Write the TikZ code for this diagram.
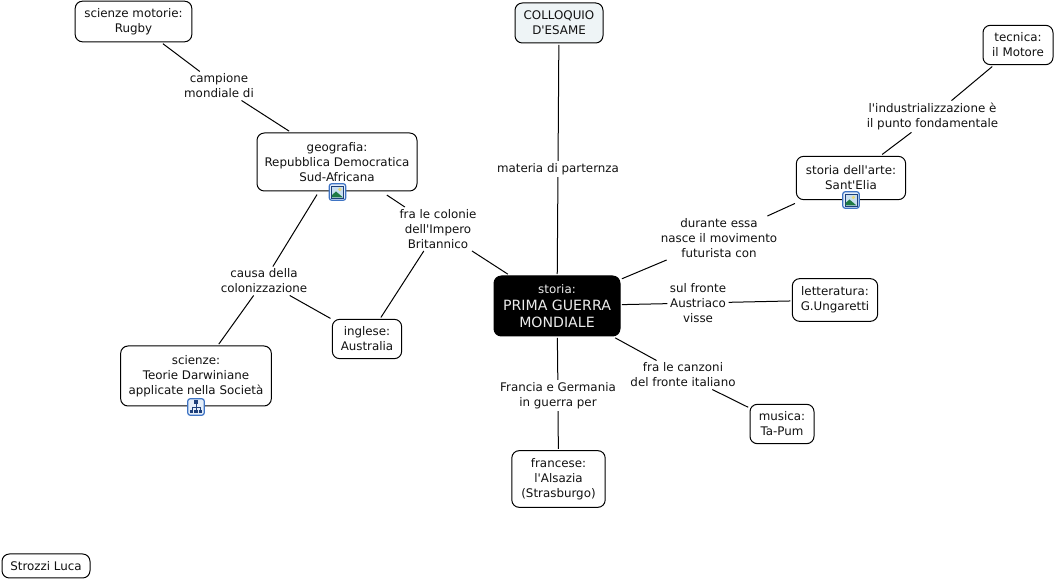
\documentclass[tikz,border=0pt]{standalone}
\usepackage{fontspec}
\setmainfont{DejaVu Sans}
\newcommand{\qq}{\textquotesingle}
\definecolor{inkc}{HTML}{111111}
\definecolor{headfill}{HTML}{EEF4F6}
\definecolor{iconblue}{HTML}{3F74C4}
\definecolor{iconpale}{HTML}{E4EEF9}
\definecolor{hillc}{HTML}{1F7A45}
\definecolor{skyc}{HTML}{C9DFF0}
\definecolor{sunc}{HTML}{E8D878}
\definecolor{darkb}{HTML}{1D3F7A}
\tikzset{
  every node/.style={font=\fontsize{8.9}{11.25}\selectfont, text=inkc, align=center},
  box/.style={draw=black, line width=.75pt, fill=white, rounded corners=5.5pt, inner sep=0pt, outer sep=1.4pt},
  headbox/.style={box, fill=headfill},
  darkbox/.style={box, fill=black, text=white!92!black},
  lab/.style={inner sep=1.8pt, outer sep=0pt},
  link/.style={line width=.75pt, black},
  iconframe/.style={draw=iconblue, fill=iconpale, line width=.9pt, rounded corners=2pt, minimum size=12.5pt, inner sep=0pt, outer sep=0pt},
  pics/imgicon/.style={code={
    \fill[skyc] (-6,-6) rectangle (6,6);
    \draw[darkb, line width=.6pt] (-6,-6) rectangle (6,6);
    \fill[sunc] (2.4,-2.6) circle (1.8);
    \fill[hillc] (-5.5,5.5) -- (-5.5,3) -- (-1.5,-0.5) -- (5.5,5.5) -- cycle;
  }},
  pics/mapicon/.style={code={
    \draw[darkb, line width=.55pt] (0,-3.5) -- (0,0) (-4,0) -- (4,0) (-4,0) -- (-4,3.5) (4,0) -- (4,3.5) (0,0) -- (0,3.5);
    \fill[darkb] (-1.8,-6.5) rectangle (1.8,-3);
    \fill[darkb] (-6,2.6) rectangle (-2.6,6);
    \fill[darkb] (-1.6,2.6) rectangle (1.6,6);
    \fill[darkb] (2.6,2.6) rectangle (6,6);
  }}
}
\begin{document}
\begin{tikzpicture}[x=.75pt,y=-.75pt]
\useasboundingbox (0,0) rectangle (1054,580);
% concept boxes
\node[headbox, minimum width=66pt, minimum height=30pt] (colloquio) at (559,23) {COLLOQUIO\\D\qq ESAME};
\node[darkbox, minimum width=94.5pt, minimum height=45pt] (storia) at (557,306) {storia:\\[1.5pt]\fontsize{10.6}{12.5}\selectfont PRIMA GUERRA\\[1.5pt]\fontsize{10.6}{12.5}\selectfont MONDIALE};
\node[box, minimum width=87.5pt, minimum height=30.5pt] (rugby) at (133.5,21.5) {scienze motorie:\\Rugby};
\node[box, minimum width=120pt, minimum height=43.5pt] (geo) at (337,162) {geografia:\\Repubblica Democratica\\Sud-Africana};
\node[box, minimum width=52pt, minimum height=29.5pt] (inglese) at (367,339) {inglese:\\Australia};
\node[box, minimum width=113pt, minimum height=45pt] (scienze) at (196,376) {scienze:\\Teorie Darwiniane\\applicate nella Società};
\node[box, minimum width=82pt, minimum height=32.5pt] (arte) at (851,178) {storia dell\qq arte:\\Sant\qq Elia};
\node[box, minimum width=52.5pt, minimum height=29.5pt] (tecnica) at (1018,45) {tecnica:\\il Motore};
\node[box, minimum width=64pt, minimum height=32pt] (letter) at (835,300) {letteratura:\\G.Ungaretti};
\node[box, minimum width=48pt, minimum height=29.5pt] (musica) at (782,424) {musica:\\Ta-Pum};
\node[box, minimum width=70pt, minimum height=42.5pt] (francese) at (558.5,479) {francese:\\l\qq Alsazia\\(Strasburgo)};
\node[box, minimum width=66pt, minimum height=18pt] (strozzi) at (46,566) {Strozzi Luca};
% link labels
\node[lab] (lmateria) at (558,169) {materia di parternza};
\node[lab] (lcampione) at (219,86) {campione\\mondiale di};
\node[lab] (lcolonie) at (438,229) {fra le colonie\\dell\qq Impero\\Britannico};
\node[lab] (lcausa) at (264,281) {causa della\\colonizzazione};
\node[lab] (lindustria) at (932.5,116.5) {l\qq industrializzazione è\\il punto fondamentale};
\node[lab] (ldurante) at (719,238) {durante essa\\nasce il movimento\\futurista con};
\node[lab] (lfronte) at (698,303) {sul fronte\\Austriaco\\visse};
\node[lab] (lcanzoni) at (683,375) {fra le canzoni\\del fronte italiano};
\node[lab] (lfrancia) at (558,395.5) {Francia e Germania\\in guerra per};
% connectors
\draw[link] (colloquio) -- (lmateria);
\draw[link] (lmateria) -- (storia);
\draw[link] (rugby) -- (lcampione);
\draw[link] (lcampione) -- (geo);
\draw[link, shorten <=3pt] (geo) -- (lcolonie);
\draw[link] (lcolonie) -- (storia);
\draw[link] (lcolonie) -- (inglese);
\draw[link, shorten <=1.5pt] (geo) -- (lcausa);
\draw[link] (lcausa) -- (scienze);
\draw[link] (lcausa) -- (inglese);
\draw[link] (tecnica) -- (lindustria);
\draw[link] (lindustria) -- (arte);
\draw[link, shorten <=3.5pt] (arte) -- (ldurante);
\draw[link] (ldurante) -- (storia);
\draw[link] (storia) -- (lfronte);
\draw[link] (lfronte) -- (letter);
\draw[link] (storia) -- (lcanzoni);
\draw[link] (lcanzoni) -- (musica);
\draw[link] (storia) -- (lfrancia);
\draw[link] (lfrancia) -- (francese);
% attachment icons
\node[iconframe] (icongeo) at (337.5,192) {};
\pic at (icongeo) {imgicon};
\node[iconframe] (iconarte) at (851,200) {};
\pic at (iconarte) {imgicon};
\node[iconframe] (iconsci) at (196,407) {};
\pic at (iconsci) {mapicon};
\end{tikzpicture}
\end{document}
